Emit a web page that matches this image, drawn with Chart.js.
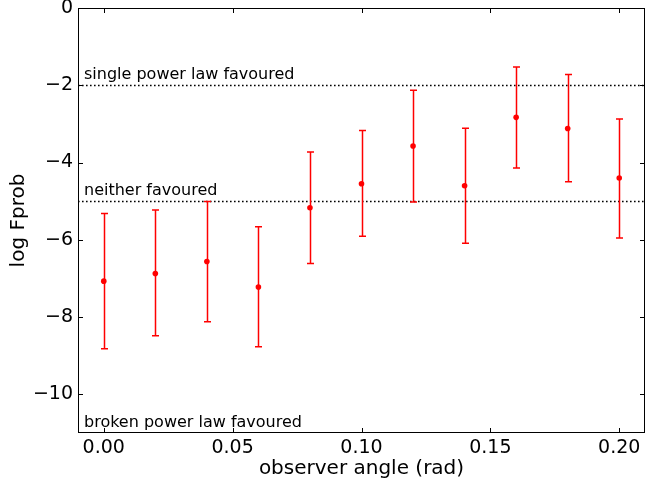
<!DOCTYPE html>
<html>
<head>
<meta charset="utf-8">
<script src="https://cdn.jsdelivr.net/npm/chart.js@4.4.1/dist/chart.umd.min.js"></script>
<style>
  html, body { margin: 0; padding: 0; background: #fff; }
  #wrap { width: 645px; height: 483px; }
</style>
</head>
<body>
<div id="wrap"><canvas id="chart"></canvas></div>
<script>
// observer angle (rad) and log Fprob with asymmetric error bars
const angles = [0.00, 0.02, 0.04, 0.06, 0.08, 0.10, 0.12, 0.14, 0.16, 0.18, 0.20];
const logF   = [-7.07, -6.87, -6.56, -7.22, -5.17, -4.55, -3.57, -4.60, -2.83, -3.12, -4.40];
const upper  = [-5.32, -5.23, -5.01, -5.66, -3.73, -3.17, -2.13, -3.11, -1.53, -1.72, -2.87];
const lower  = [-8.82, -8.48, -8.12, -8.77, -6.61, -5.91, -5.02, -6.09, -4.14, -4.50, -5.95];

const xTicks = [0.00, 0.05, 0.10, 0.15, 0.20];
const yTicks = [0, -2, -4, -6, -8, -10];

// reference lines and their notes
const refLevels = [-2, -5];
const notes = [
  { text: 'single power law favoured', y: -2 },
  { text: 'neither favoured', y: -5 },
  { text: 'broken power law favoured', y: -11 }
];

const FONT = "'DejaVu Sans', sans-serif";

const errorBars = {
  id: 'errorBars',
  beforeDatasetsDraw(chart) {
    const { ctx, chartArea: a, scales: { x, y } } = chart;
    ctx.save();
    // dotted reference lines
    ctx.strokeStyle = '#000';
    ctx.lineWidth = 1.6;
    ctx.setLineDash([1.6, 2.4]);
    refLevels.forEach(v => {
      const py = Math.round(y.getPixelForValue(v)) + 0.5;
      ctx.beginPath();
      ctx.moveTo(a.left, py);
      ctx.lineTo(a.right, py);
      ctx.stroke();
    });
    ctx.setLineDash([]);
    // notes
    ctx.fillStyle = '#000';
    ctx.font = '16px ' + FONT;
    ctx.textBaseline = 'alphabetic';
    notes.forEach(n => {
      ctx.fillText(n.text, a.left + 6, y.getPixelForValue(n.y) - 6);
    });
    // error bars
    ctx.strokeStyle = '#ff0000';
    ctx.lineWidth = 1.5;
    angles.forEach((ang, i) => {
      const px = Math.round(x.getPixelForValue(ang)) + 0.5;
      const top = y.getPixelForValue(upper[i]);
      const bot = y.getPixelForValue(lower[i]);
      ctx.beginPath();
      ctx.moveTo(px, top); ctx.lineTo(px, bot);
      ctx.moveTo(px - 3.5, top); ctx.lineTo(px + 3.5, top);
      ctx.moveTo(px - 3.5, bot); ctx.lineTo(px + 3.5, bot);
      ctx.stroke();
    });
    ctx.restore();
  },
  afterDraw(chart) {
    const { ctx, chartArea: a, scales: { x, y } } = chart;
    ctx.save();
    ctx.strokeStyle = '#000';
    ctx.lineWidth = 1;
    ctx.strokeRect(a.left + 0.5, a.top + 0.5, a.right - a.left - 1, a.bottom - a.top - 1);
    ctx.beginPath();
    xTicks.forEach(v => {
      const px = Math.round(x.getPixelForValue(v)) + 0.5;
      ctx.moveTo(px, a.bottom); ctx.lineTo(px, a.bottom - 5);
      ctx.moveTo(px, a.top); ctx.lineTo(px, a.top + 5);
    });
    yTicks.forEach(v => {
      const py = Math.round(y.getPixelForValue(v)) + 0.5;
      ctx.moveTo(a.left, py); ctx.lineTo(a.left + 5, py);
      ctx.moveTo(a.right, py); ctx.lineTo(a.right - 5, py);
    });
    ctx.stroke();
    ctx.restore();
  }
};

new Chart(document.getElementById('chart'), {
  type: 'scatter',
  data: {
    datasets: [{
      data: angles.map((a, i) => ({ x: a, y: logF[i] })),
      backgroundColor: '#ff0000',
      borderColor: '#ff0000',
      borderWidth: 0,
      pointRadius: 2.8,
      pointHoverRadius: 2.8
    }]
  },
  options: {
    responsive: true,
    maintainAspectRatio: false,
    animation: false,
    layout: { autoPadding: false, padding: { top: 8, right: 0, left: 0, bottom: 0 } },
    plugins: { legend: { display: false }, tooltip: { enabled: false } },
    scales: {
      x: {
        type: 'linear',
        min: -0.01,
        max: 0.21,
        afterBuildTicks: s => { s.ticks = xTicks.map(v => ({ value: v })); },
        afterFit: s => { s.height = 50; s.paddingLeft = 0; s.paddingRight = 0; },
        grid: { display: false, drawTicks: false },
        border: { display: false },
        ticks: {
          color: '#000',
          padding: 4,
          font: { family: FONT, size: 19 },
          callback: v => v.toFixed(2)
        },
        title: {
          display: true,
          text: 'observer angle (rad)',
          color: '#000',
          padding: { top: 0, bottom: 2 },
          font: { family: FONT, size: 20 }
        }
      },
      y: {
        min: -11,
        max: 0,
        afterBuildTicks: s => { s.ticks = yTicks.map(v => ({ value: v })); },
        afterFit: s => { s.width = 78; s.paddingTop = 0; s.paddingBottom = 0; },
        grid: { display: false, drawTicks: false },
        border: { display: false },
        ticks: {
          color: '#000',
          padding: 5,
          font: { family: FONT, size: 19 },
          callback: v => (v < 0 ? '\u2212' + Math.abs(v) : String(v))
        },
        title: {
          display: true,
          text: 'log Fprob',
          color: '#000',
          padding: { top: 7, bottom: 0 },
          font: { family: FONT, size: 20 }
        }
      }
    }
  },
  plugins: [errorBars]
});
</script>
</body>
</html>
